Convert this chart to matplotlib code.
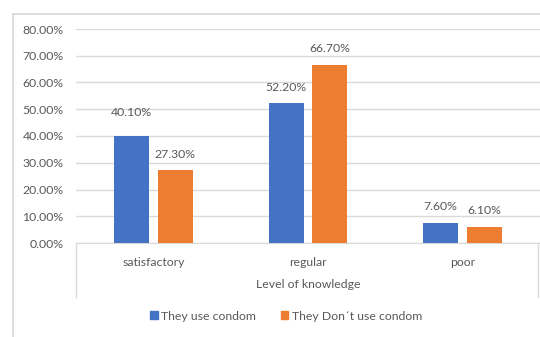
import matplotlib.pyplot as plt
from matplotlib.lines import Line2D
import numpy as np

plt.rcParams['font.family'] = ['Lato', 'DejaVu Sans']

categories = ["satisfactory", "regular", "poor"]
use_condom = [40.10, 52.20, 7.60]
dont_use_condom = [27.30, 66.70, 6.10]
series_names = ["They use condom", "They Don\u00b4t use condom"]
yticks = [0, 10, 20, 30, 40, 50, 60, 70, 80]

blue = "#4472C4"
orange = "#ED7D31"
grey_txt = "#595959"
grid_col = "#D9D9D9"

fig = plt.figure(figsize=(5.4, 3.37), dpi=100)
ax = fig.add_axes([76 / 540, 1 - 243 / 337, 1 - 76 / 540, (243 - 29) / 337])

x = np.arange(len(categories))
w = 0.226
off = 0.142
b1 = ax.bar(x - off, use_condom, w, color=blue, zorder=3)
b2 = ax.bar(x + off, dont_use_condom, w, color=orange, zorder=3)

ax.set_xlim(-0.5, 2.5)
ax.set_ylim(0, 80)
ax.set_yticks(yticks)
ax.set_yticklabels(["%.2f%%" % v for v in yticks], color=grey_txt, fontsize=8.8)
ax.set_xticks(x)
ax.set_xticklabels(categories, color=grey_txt, fontsize=8.8)
ax.tick_params(axis="both", length=0)
ax.tick_params(axis="y", pad=9)
ax.tick_params(axis="x", pad=10)
ax.grid(axis="y", color=grid_col, linewidth=1, zorder=0)
for s in ["top", "right", "left"]:
    ax.spines[s].set_visible(False)
ax.spines["bottom"].set_color(grid_col)
ax.set_xlabel("Level of knowledge", color=grey_txt, fontsize=8.8, labelpad=8)

# value labels above the bars
for bars in (b1, b2):
    for r in bars:
        h = r.get_height()
        extra = 5 if h == use_condom[0] else 0
        ax.annotate("%.2f%%" % h, (r.get_x() + r.get_width() / 2, h),
                    xytext=(0, 11.5 + extra), textcoords="offset points",
                    ha="center", va="center", color=grey_txt, fontsize=8.8)

# category axis box lines and chart frame
fig.add_artist(Line2D([76 / 540, 76 / 540], [1 - 243 / 337, 1 - 297 / 337],
                      color=grid_col, lw=1))
fig.add_artist(Line2D([538 / 540, 538 / 540], [1 - 243 / 337, 1 - 297 / 337],
                      color=grid_col, lw=1))
fig.add_artist(Line2D([13 / 540, 13 / 540], [1 - 14 / 337, 0],
                      color=grid_col, lw=1.2))
fig.add_artist(Line2D([13 / 540, 1], [1 - 14 / 337, 1 - 14 / 337],
                      color=grid_col, lw=1.2))

handles = [plt.Rectangle((0, 0), 1, 1, color=blue),
           plt.Rectangle((0, 0), 1, 1, color=orange)]
fig.legend(handles, series_names, loc="center", bbox_to_anchor=(286 / 540, 1 - 316 / 337),
           ncol=2, frameon=False, fontsize=8.8, handlelength=0.6, handleheight=0.6,
           handletextpad=0.3, columnspacing=2.0, labelcolor=grey_txt)

fig.savefig("out.png", dpi=100)
